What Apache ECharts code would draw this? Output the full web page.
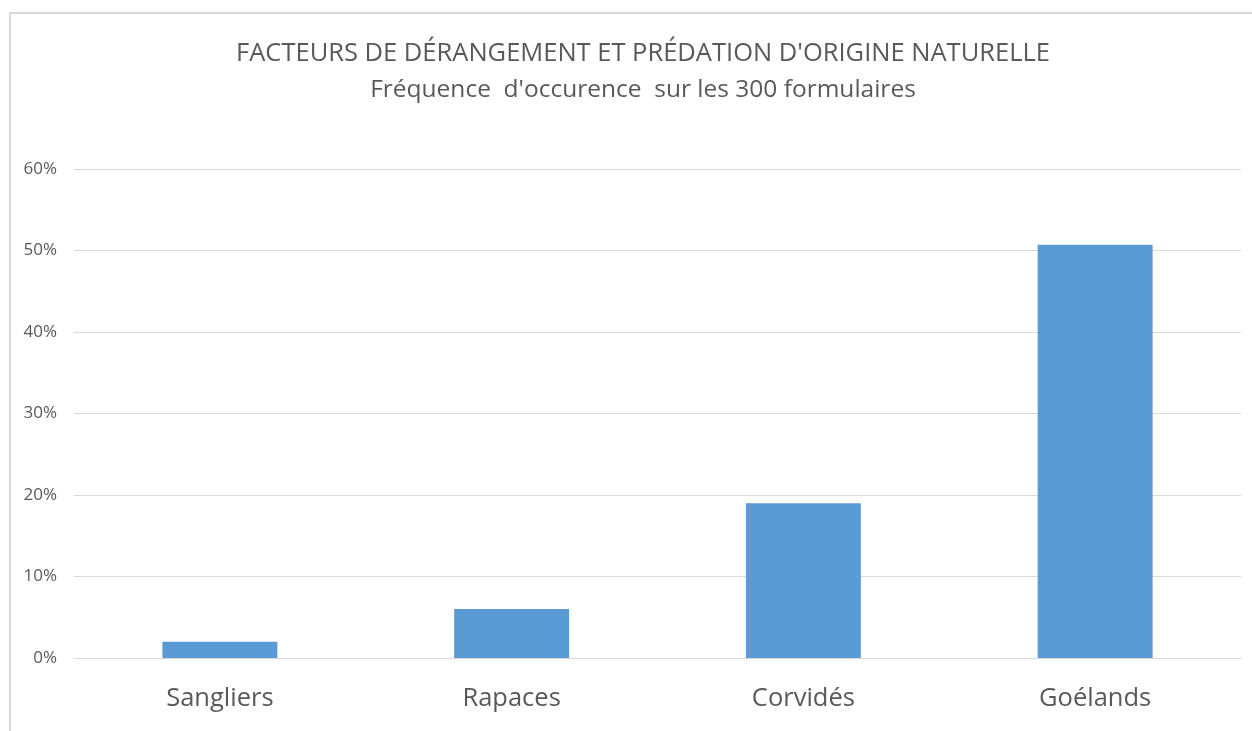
<!DOCTYPE html>
<html>
<head>
<meta charset="utf-8">
<title>Facteurs de dérangement</title>
<script src="https://cdn.jsdelivr.net/npm/echarts@6/dist/echarts.min.js"></script>
<style>
  html, body { margin: 0; padding: 0; background: #fff; }
  #chart { width: 1252px; height: 731px; }
</style>
</head>
<body>
<div id="chart"></div>
<script>
// données
const categories = ['Sangliers', 'Rapaces', 'Corvidés', 'Goélands']
const frequences = [0.02, 0.06, 0.19, 0.507]
const yTicks = { min: 0, max: 0.6, interval: 0.1 }
const titre = 'FACTEURS DE DÉRANGEMENT ET PRÉDATION D\'ORIGINE NATURELLE'
const sousTitre = 'Fréquence  d\'occurence  sur les 300 formulaires'

const font = '"Open Sans", "Noto Sans", sans-serif'
const gris = '#595959'

let myChart = echarts.init(document.getElementById('chart'))
myChart.setOption({
  animation: false,
  textStyle: { fontFamily: font },
  title: [
    {
      text: titre,
      left: 638,
      top: 36,
      textAlign: 'center',
      textStyle: { fontFamily: font, fontSize: 25.5, fontWeight: 'normal', color: gris },
    },
    {
      text: sousTitre,
      left: 638,
      top: 73,
      textAlign: 'center',
      textStyle: { fontFamily: font, fontSize: 24.5, fontWeight: 'normal', color: gris },
    },
  ],
  graphic: [
    {
      type: 'rect',
      shape: { x: 10, y: 13, width: 1400, height: 900 },
      style: { fill: 'none', stroke: '#d9d9d9', lineWidth: 2 },
      silent: true,
    },
  ],
  grid: {
    left: 74,
    right: 11,
    top: 169,
    bottom: 73,
  },
  xAxis: {
    type: 'category',
    data: categories,
    axisTick: { show: false },
    axisLine: { lineStyle: { color: '#d9d9d9', width: 1 } },
    axisLabel: {
      color: gris,
      fontSize: 25.5,
      margin: 28,
      fontFamily: font,
    },
  },
  yAxis: {
    type: 'value',
    min: yTicks.min,
    max: yTicks.max,
    interval: yTicks.interval,
    axisLine: { show: false },
    axisTick: { show: false },
    splitLine: { lineStyle: { color: '#d9d9d9', width: 1 } },
    axisLabel: {
      color: gris,
      fontSize: 17,
      margin: 17,
      fontFamily: font,
      formatter: function (value) {
        return Math.round(value * 100) + '%'
      },
    },
  },
  series: [
    {
      type: 'bar',
      data: frequences,
      barWidth: '39.4%',
      itemStyle: { color: '#5b9bd5' },
    },
  ],
})
</script>
</body>
</html>
